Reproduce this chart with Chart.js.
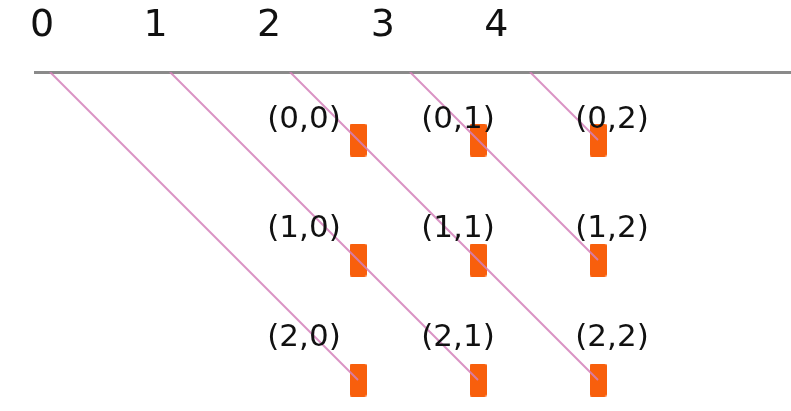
<!DOCTYPE html>
<html><head><meta charset="utf-8">
<script src="https://cdn.jsdelivr.net/npm/chart.js@4.4.1/dist/chart.umd.min.js"></script>
<style>html,body{margin:0;padding:0;background:#fff;} canvas{display:block;}</style>
</head><body>
<canvas id="c" width="791" height="411"></canvas>
<script>
// ---- data ----
const timeTicks = [0, 1, 2, 3, 4];   // time steps written above the line
const rows = [0, 1, 2];              // cell row index i
const cols = [0, 1, 2];              // cell column index j
const diagonals = [-2, -1, 0, 1, 2]; // wavefronts: j - i

// ---- derived ----
const cells = [];
rows.forEach(r => cols.forEach(c => cells.push({ x: c, y: r, label: '(' + r + ',' + c + ')' })));

const Y_MIN = -0.5667, Y_MAX = 2.2583;

const lineDatasets = diagonals.map(d => {
  const onDiag = cells.filter(p => p.x - p.y === d).sort((a, b) => a.y - b.y);
  return {
    label: 'wavefront ' + d,
    data: [{ x: d + Y_MIN, y: Y_MIN }].concat(onDiag.map(p => ({ x: p.x, y: p.y }))),
    showLine: true,
    borderColor: 'rgba(212,128,186,0.85)',
    borderWidth: 2,
    pointRadius: 0,
    fill: false,
    tension: 0
  };
});

const barImg = document.createElement('canvas');
barImg.width = 17; barImg.height = 33;
(function () {
  const g = barImg.getContext('2d');
  g.fillStyle = '#F85F0C';
  g.beginPath();
  if (g.roundRect) g.roundRect(0, 0, 17, 33, 2); else g.rect(0, 0, 17, 33);
  g.fill();
})();

const cellDataset = {
  label: 'cells',
  data: cells.map(p => ({ x: p.x, y: p.y })),
  pointStyle: barImg,
  pointRadius: 8,
  showLine: false
};

const cellLabels = {
  id: 'cellLabels',
  afterDatasetsDraw(chart) {
    const xs = chart.scales.xl, ys = chart.scales.yl, ctx = chart.ctx;
    ctx.save();
    ctx.font = '31px "DejaVu Sans"';
    ctx.fillStyle = '#111';
    ctx.textAlign = 'center';
    ctx.textBaseline = 'middle';
    cells.forEach(p => ctx.fillText(p.label, xs.getPixelForValue(p.x), ys.getPixelForValue(p.y)));
    ctx.restore();
  }
};

const whiteBg = {
  id: 'whiteBg',
  beforeDraw(chart) {
    const ctx = chart.ctx;
    ctx.save(); ctx.fillStyle = '#fff'; ctx.fillRect(0, 0, chart.width, chart.height); ctx.restore();
  }
};

new Chart(document.getElementById('c'), {
  type: 'scatter',
  data: { datasets: lineDatasets.concat([cellDataset]) },
  options: {
    responsive: false,
    animation: false,
    devicePixelRatio: 1,
    events: [],
    layout: { autoPadding: false, padding: { top: -20, left: 35, right: 0, bottom: 0 } },
    plugins: { legend: { display: false }, tooltip: { enabled: false } },
    scales: {
      x: { type: 'linear', axis: 'x', position: 'bottom', display: false, min: -2.6917, max: 3.6083 },
      y: { type: 'linear', axis: 'y', position: 'left', display: false, reverse: true, min: Y_MIN, max: Y_MAX },
      xl: { type: 'linear', axis: 'x', position: 'bottom', display: false, min: -1.7468, max: 3.1623 },
      yl: { type: 'linear', axis: 'y', position: 'left', display: false, reverse: true, min: -0.4404, max: 2.6697 },
      xt: {
        type: 'linear', axis: 'x', position: 'top', min: -0.0634, max: 6.597,
        grid: { display: false, drawTicks: false },
        border: { display: true, color: '#8a8a8a', width: 3 },
        ticks: { font: { size: 38, family: 'DejaVu Sans' }, color: '#111', padding: 23.2 },
        afterBuildTicks: s => { s.ticks = timeTicks.map(v => ({ value: v })); }
      }
    }
  },
  plugins: [whiteBg, cellLabels]
});
</script>
</body></html>
